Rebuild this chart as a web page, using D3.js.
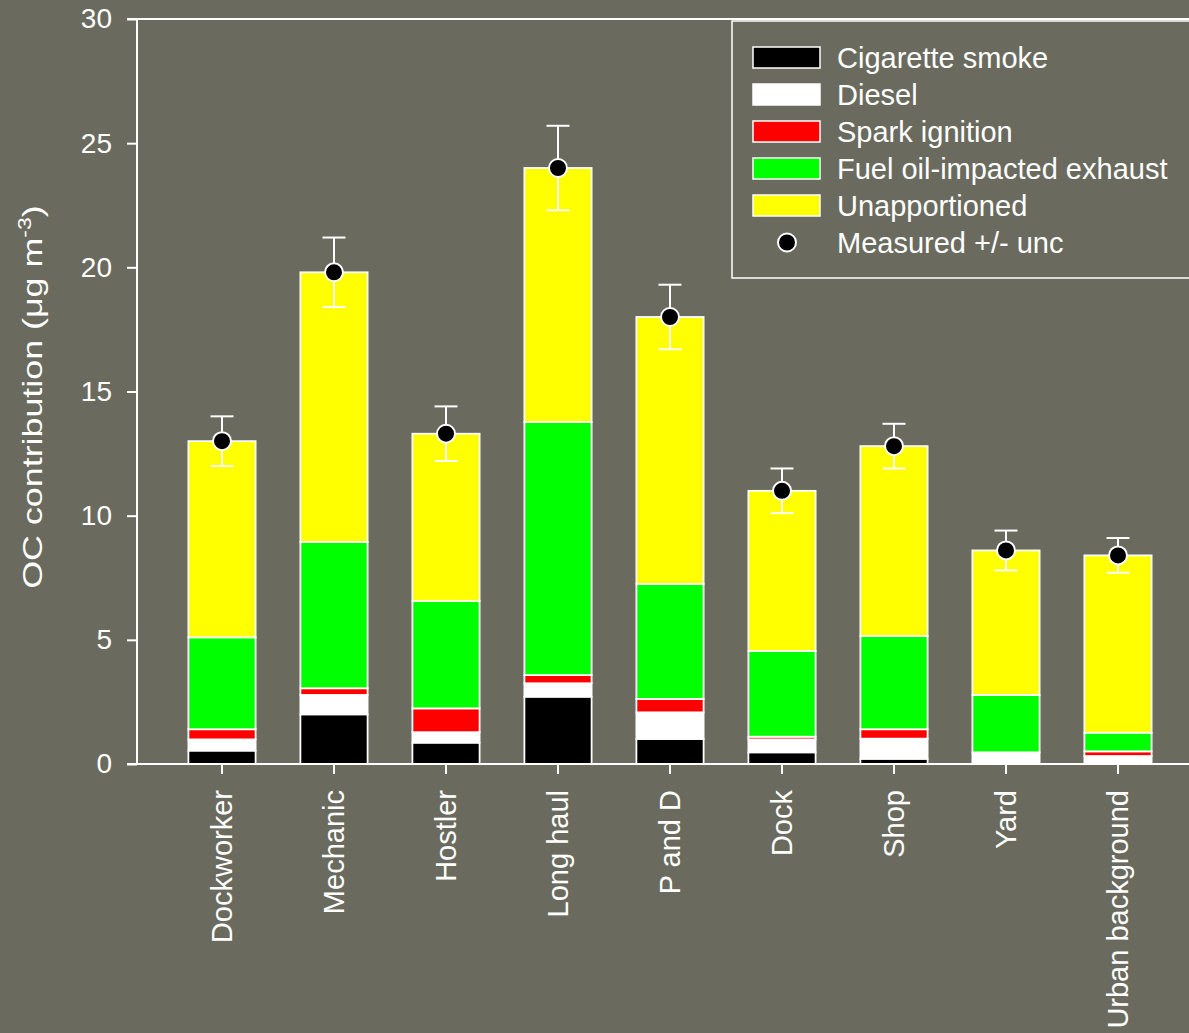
<!DOCTYPE html>
<html>
<head>
<meta charset="utf-8">
<script src="https://cdn.jsdelivr.net/npm/d3@7"></script>
<style>
  html, body { margin: 0; padding: 0; background: #6a6b5e; }
  svg { display: block; }
  text { font-family: "Liberation Sans", Arial, sans-serif; fill: #fff; }
</style>
</head>
<body>
<svg id="chart" width="1189" height="1033"></svg>
<script>
const categories = ["Dockworker", "Mechanic", "Hostler", "Long haul", "P and D", "Dock", "Shop", "Yard", "Urban background"];
const cigaretteSmoke = [0.54, 2.00, 0.86, 2.71, 1.01, 0.47, 0.21, 0.00, 0.00];
const diesel         = [0.45, 0.78, 0.42, 0.54, 1.07, 0.52, 0.81, 0.47, 0.32];
const sparkIgnition  = [0.41, 0.27, 0.96, 0.33, 0.54, 0.11, 0.38, 0.00, 0.19];
const fuelOil        = [3.70, 5.89, 4.32, 10.19, 4.63, 3.45, 3.75, 2.31, 0.75];
const unapportioned  = [7.90, 10.86, 6.74, 10.23, 10.75, 6.45, 7.65, 5.82, 7.14];
const measured       = [13.0, 19.8, 13.3, 24.0, 18.0, 11.0, 12.8, 8.6, 8.4];
const uncertainty    = [1.0, 1.4, 1.1, 1.7, 1.3, 0.9, 0.9, 0.8, 0.7];
const yTicks = [0, 5, 10, 15, 20, 25, 30];
const seriesNames = ["Cigarette smoke", "Diesel", "Spark ignition", "Fuel oil-impacted exhaust", "Unapportioned"];
const seriesColors = ["#000000", "#ffffff", "#ff0000", "#00ff00", "#ffff00"];
const measuredLabel = "Measured +/- unc";

const svg = d3.select("#chart");
const W = 1189;
const x = d3.scaleBand().domain(categories).range([166, 1174]).paddingInner(0.4).paddingOuter(0.2);
const y = d3.scaleLinear().domain([0, 30]).range([764, 19]);

const rows = categories.map((c, i) => ({
  cat: c,
  s0: cigaretteSmoke[i], s1: diesel[i], s2: sparkIgnition[i], s3: fuelOil[i], s4: unapportioned[i]
}));
const stack = d3.stack().keys(["s0", "s1", "s2", "s3", "s4"])(rows);

// bars
svg.append("g").selectAll("g").data(stack).join("g")
  .attr("fill", (d, i) => seriesColors[i])
  .selectAll("rect").data(d => d.filter(p => p[1] - p[0] > 0)).join("rect")
  .attr("x", d => x(d.data.cat))
  .attr("width", x.bandwidth())
  .attr("y", d => y(d[1]))
  .attr("height", d => y(d[0]) - y(d[1]))
  .attr("stroke", "#fff").attr("stroke-width", 1.8);

// axes
const yAxis = svg.append("g").attr("transform", "translate(137,0)")
  .call(d3.axisLeft(y).tickValues(yTicks).tickSize(10).tickPadding(15));
yAxis.select(".domain").remove();
yAxis.selectAll("line").attr("stroke", "#fff").attr("stroke-width", 2);
yAxis.selectAll("text").attr("fill", "#fff").style("font-size", "28px")
  .style("font-family", '"Liberation Sans", Arial, sans-serif');

const xAxis = svg.append("g").attr("transform", "translate(0,764)")
  .call(d3.axisBottom(x).tickSize(10));
xAxis.select(".domain").remove();
xAxis.selectAll("line").attr("stroke", "#fff").attr("stroke-width", 2);
xAxis.selectAll("text")
  .attr("transform", "rotate(-90)")
  .attr("text-anchor", "end")
  .attr("x", -26).attr("y", 0).attr("dy", "0.36em")
  .attr("fill", "#fff").style("font-size", "29px")
  .style("font-family", '"Liberation Sans", Arial, sans-serif');

// frame lines
svg.append("line").attr("x1", 137).attr("x2", 137).attr("y1", 18).attr("y2", 765).attr("stroke", "#fff").attr("stroke-width", 2);
svg.append("line").attr("x1", 127).attr("x2", W).attr("y1", y(0)).attr("y2", y(0)).attr("stroke", "#fff").attr("stroke-width", 2);
svg.append("line").attr("x1", 127).attr("x2", W).attr("y1", y(30)).attr("y2", y(30)).attr("stroke", "#fff").attr("stroke-width", 2);

// error bars and points
const eb = svg.append("g").selectAll("g").data(categories).join("g");
eb.append("line")
  .attr("x1", (d) => x(d) + x.bandwidth() / 2).attr("x2", (d) => x(d) + x.bandwidth() / 2)
  .attr("y1", (d, i) => y(measured[i] + uncertainty[i])).attr("y2", (d, i) => y(measured[i] - uncertainty[i]))
  .attr("stroke", "#fff").attr("stroke-width", 2);
[1, -1].forEach(sgn => {
  eb.append("line")
    .attr("x1", (d) => x(d) + x.bandwidth() / 2 - 11.5).attr("x2", (d) => x(d) + x.bandwidth() / 2 + 11.5)
    .attr("y1", (d, i) => y(measured[i] + sgn * uncertainty[i])).attr("y2", (d, i) => y(measured[i] + sgn * uncertainty[i]))
    .attr("stroke", "#fff").attr("stroke-width", 2);
});
eb.append("circle")
  .attr("cx", (d) => x(d) + x.bandwidth() / 2)
  .attr("cy", (d, i) => y(measured[i]))
  .attr("r", 9).attr("fill", "#000").attr("stroke", "#fff").attr("stroke-width", 2);

// y label
const yl = svg.append("text")
  .attr("transform", "translate(42,397) rotate(-90) scale(1.28,1)")
  .attr("text-anchor", "middle")
  .style("font-size", "28px");
yl.append("tspan").text("OC contribution (\u03bcg m");
yl.append("tspan").text("-3").style("font-size", "18px").attr("dy", -11);
yl.append("tspan").text(")").attr("dy", 11);

// legend
const lg = svg.append("g");
lg.append("rect").attr("x", 732).attr("y", 21).attr("width", 480).attr("height", 257)
  .attr("fill", "none").attr("stroke", "#fff").attr("stroke-width", 1.5);
const rowY = i => 57.5 + i * 37;
seriesNames.forEach((nm, i) => {
  lg.append("rect").attr("x", 753).attr("y", rowY(i) - 10.5).attr("width", 67).attr("height", 21)
    .attr("fill", seriesColors[i]).attr("stroke", "#fff").attr("stroke-width", 1.5);
  lg.append("text").attr("x", 837).attr("y", rowY(i)).attr("dy", "0.36em").style("font-size", "29px").text(nm);
});
lg.append("circle").attr("cx", 787).attr("cy", rowY(5)).attr("r", 9)
  .attr("fill", "#000").attr("stroke", "#fff").attr("stroke-width", 2);
lg.append("text").attr("x", 837).attr("y", rowY(5)).attr("dy", "0.36em").style("font-size", "29px").text(measuredLabel);
</script>
</body>
</html>
